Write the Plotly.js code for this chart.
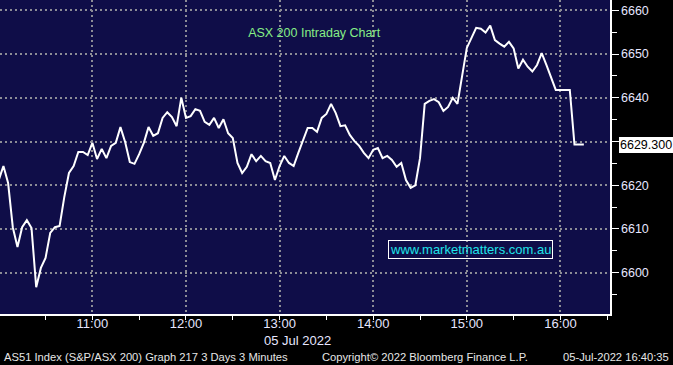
<!DOCTYPE html>
<html>
<head>
<meta charset="utf-8">
<script src="https://cdn.plot.ly/plotly-3.0.1.min.js"></script>
<style>
html,body{margin:0;padding:0;background:#000;}
#chart{width:673px;height:365px;}
</style>
</head>
<body>
<div id="chart"></div>
<script>
// ---- data (3-minute bars, 05 Jul 2022) ----
const sessionDate = '2022-07-05';
const times = [
 '10:00','10:03','10:06','10:09','10:12','10:15','10:18','10:21','10:24','10:27',
 '10:30','10:33','10:36','10:39','10:42','10:45','10:48','10:51','10:54','10:57',
 '11:00','11:03','11:06','11:09','11:12','11:15','11:18','11:21','11:24','11:27',
 '11:30','11:33','11:36','11:39','11:42','11:45','11:48','11:51','11:54','11:57',
 '12:00','12:03','12:06','12:09','12:12','12:15','12:18','12:21','12:24','12:27',
 '12:30','12:33','12:36','12:39','12:42','12:45','12:48','12:51','12:54','12:57',
 '13:00','13:03','13:06','13:09','13:12','13:15','13:18','13:21','13:24','13:27',
 '13:30','13:33','13:36','13:39','13:42','13:45','13:48','13:51','13:54','13:57',
 '14:00','14:03','14:06','14:09','14:12','14:15','14:18','14:21','14:24','14:27',
 '14:30','14:33','14:36','14:39','14:42','14:45','14:48','14:51','14:54','14:57',
 '15:00','15:03','15:06','15:09','15:12','15:15','15:18','15:21','15:24','15:27',
 '15:30','15:33','15:36','15:39','15:42','15:45','15:48','15:51','15:54','15:57',
 '16:00','16:03','16:06','16:09','16:12','16:15'
];
const prices = [
 6621.2,6624.4,6620.5,6610.4,6605.9,6610.4,6612.0,6610.2,6596.7,6601.1,
 6603.4,6609.1,6610.4,6610.7,6617.3,6622.8,6624.4,6627.6,6627.6,6626.9,
 6629.7,6626.0,6628.3,6626.2,6629.0,6629.7,6633.3,6629.9,6625.3,6624.9,
 6627.1,6629.7,6633.3,6631.3,6631.9,6635.4,6636.7,6635.6,6633.5,6640.0,
 6635.4,6635.8,6637.4,6637.0,6634.5,6633.8,6635.4,6633.1,6635.1,6631.9,
 6630.8,6625.1,6622.8,6624.2,6627.1,6625.5,6626.7,6625.5,6625.1,6621.2,
 6624.4,6626.7,6625.1,6624.4,6627.4,6630.3,6633.1,6633.1,6632.2,6635.4,
 6636.3,6638.6,6636.5,6633.5,6633.7,6631.5,6630.1,6629.0,6627.4,6626.2,
 6628.1,6628.5,6626.2,6626.7,6625.8,6624.2,6625.1,6621.2,6619.4,6620.0,
 6626.2,6638.6,6639.3,6639.7,6639.0,6637.0,6637.9,6640.0,6638.6,6645.0,
 6651.4,6653.7,6656.0,6655.8,6654.9,6656.5,6653.2,6652.4,6651.7,6652.8,
 6651.3,6646.7,6648.7,6647.1,6646.0,6647.5,6650.2,6647.5,6644.5,6641.8,
 6641.8,6641.8,6641.8,6629.3,6629.3,6629.3
];
const lastPrice = 6629.3;
const yTickValues = [6600, 6610, 6620, 6630, 6640, 6650, 6660];
const yTickLabels = ['6600', '6610', '6620', '', '6640', '6650', '6660'];
const yMinorTicks = [6595, 6605, 6615, 6625, 6635, 6645, 6655];
const xRange = ['2022-07-05 10:00:48', '2022-07-05 16:31:46'];
const yRange = [6590.56, 6662.36];
const titleText = 'ASX 200 Intraday Chart';
const dateLabel = '05 Jul 2022';
const watermark = 'www.marketmatters.com.au';
const footerLeft = 'AS51 Index (S&amp;P/ASX 200) Graph 217 3 Days 3 Minutes';
const footerMid = 'Copyright\u00A9 2022 Bloomberg Finance L.P.';
const footerRight = '05-Jul-2022 16:40:35';

const xs = times.map(t => sessionDate + ' ' + t);

const FONT = 'Liberation Sans, Arial, sans-serif';
const LABEL_COLOR = '#e6e6ff';
const GRID_COLOR = '#8c8c96';

const lineTrace = {
  x: xs, y: prices, type: 'scatter', mode: 'lines',
  line: {color: '#ffffff', width: 2},
  hoverinfo: 'skip', showlegend: false
};
const arrowTicks = yTickValues.filter((v, i) => yTickLabels[i] !== '');
const tickArrows = {
  x: arrowTicks.map(() => 1.0065),
  y: arrowTicks,
  xaxis: 'x2', type: 'scatter', mode: 'markers', cliponaxis: false,
  marker: {symbol: 'triangle-right', size: 7, color: '#ffffff'},
  hoverinfo: 'skip', showlegend: false
};
const lastTip = {
  x: [1.0075], y: [lastPrice], xaxis: 'x2', type: 'scatter', mode: 'markers', cliponaxis: false,
  marker: {symbol: 'triangle-left', size: 10, color: '#ffffff'},
  hoverinfo: 'skip', showlegend: false
};

const layout = {
  width: 673, height: 365,
  margin: {l: 0, r: 63, t: 0, b: 51, pad: 0},
  paper_bgcolor: '#000000',
  plot_bgcolor: '#0f0d48',
  showlegend: false,
  title: {
    text: titleText, x: 0.515, xref: 'paper', xanchor: 'center',
    y: 0.895, yref: 'paper', yanchor: 'middle',
    font: {family: FONT, size: 12.5, color: '#86ee86'}
  },
  xaxis: {
    type: 'date', range: xRange,
    tick0: '2022-07-05 00:00', dtick: 3600000, tickformat: '%H:%M',
    showgrid: true, gridcolor: GRID_COLOR, griddash: '2px,3px', gridwidth: 2,
    zeroline: false, showline: true, linecolor: '#ffffff', linewidth: 1.5,
    ticks: 'outside', ticklen: 4, tickcolor: '#ffffff', tickwidth: 1,
    ticklabelstandoff: -7,
    minor: {dtick: 1800000, ticks: 'outside', ticklen: 4, tickcolor: '#ffffff', showgrid: false},
    tickfont: {family: FONT, size: 13, color: LABEL_COLOR},
    fixedrange: true
  },
  xaxis2: {overlaying: 'x', range: [0, 1], visible: false, fixedrange: true},
  yaxis: {
    side: 'right', range: yRange,
    tickmode: 'array', tickvals: yTickValues, ticktext: yTickLabels,
    showgrid: true, gridcolor: GRID_COLOR, griddash: '2px,3px', gridwidth: 2,
    zeroline: false, showline: true, linecolor: '#ffffff', linewidth: 1.5,
    ticks: 'outside', ticklen: 7, tickcolor: '#ffffff', tickwidth: 1,
    minor: {tickvals: yMinorTicks, ticks: 'outside', ticklen: 5, tickcolor: '#ffffff', showgrid: false},
    tickfont: {family: FONT, size: 12.5, color: LABEL_COLOR},
    fixedrange: true
  },
  annotations: [
    {text: lastPrice.toFixed(3), xref: 'paper', x: 1, xanchor: 'left', xshift: 9,
     yref: 'y', y: lastPrice, yanchor: 'middle', showarrow: false,
     bgcolor: '#ffffff', bordercolor: '#ffffff', borderwidth: 0, borderpad: 1,
     font: {family: FONT, size: 12.5, color: '#000000'}},
    {text: watermark, xref: 'paper', x: 0.772, yref: 'paper', y: 0.205,
     xanchor: 'center', yanchor: 'middle', showarrow: false,
     bordercolor: '#ffffff', borderwidth: 1, borderpad: 1,
     font: {family: FONT, size: 13, color: '#1fe3e8'}},
    {text: dateLabel, xref: 'paper', x: 0.487, yref: 'paper', y: -0.083,
     xanchor: 'center', yanchor: 'middle', showarrow: false,
     font: {family: FONT, size: 13, color: LABEL_COLOR}},
    {text: footerLeft, xref: 'paper', x: 0.004, yref: 'paper', y: -0.137,
     xanchor: 'left', yanchor: 'middle', showarrow: false,
     font: {family: FONT, size: 11.2, color: '#e6e6e6'}},
    {text: footerMid, xref: 'paper', x: 0.524, yref: 'paper', y: -0.137,
     xanchor: 'left', yanchor: 'middle', showarrow: false,
     font: {family: FONT, size: 11.2, color: '#e6e6e6'}},
    {text: footerRight, xref: 'paper', x: 1.1, yref: 'paper', y: -0.137,
     xanchor: 'right', yanchor: 'middle', showarrow: false,
     font: {family: FONT, size: 11.2, color: '#e6e6e6'}}
  ]
};

Plotly.newPlot('chart', [lineTrace, tickArrows, lastTip], layout, {staticPlot: true, displayModeBar: false});
</script>
</body>
</html>
